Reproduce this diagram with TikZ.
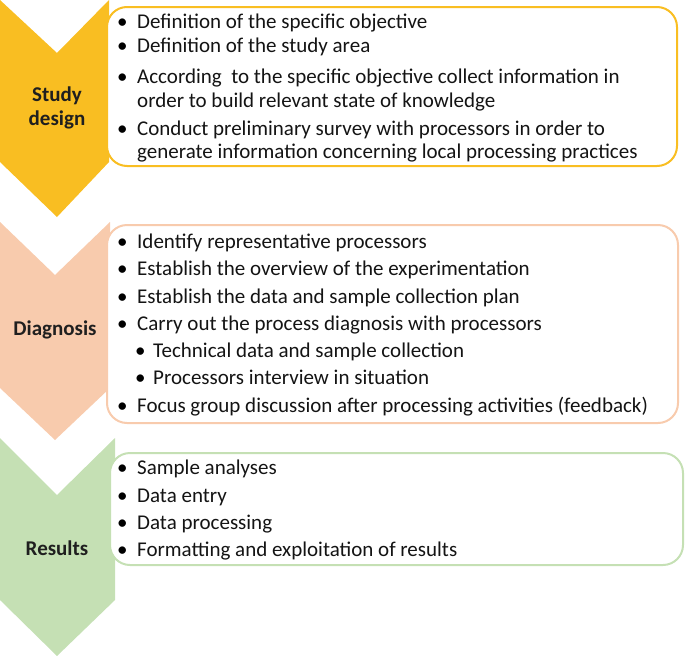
\documentclass[tikz,border=0pt]{standalone}
\usepackage{fontspec}
\setmainfont{Carlito}
\definecolor{cyel}{HTML}{F9BE22}
\definecolor{cpea}{HTML}{F8CBAD}
\definecolor{cgrn}{HTML}{C5E0B4}
\begin{document}
\begin{tikzpicture}[x=1pt,y=-1pt,
  box/.style={line width=2pt,rounded corners=20pt,fill=white},
  lab/.style={font=\fontsize{21}{24}\selectfont\bfseries,align=center,text=black!88},
  txt/.style={font=\fontsize{21}{24}\selectfont,anchor=base west,inner sep=0pt,text=black!92},
  bul/.style={font=\fontsize{21}{24}\selectfont,anchor=base west,inner sep=0pt}]
\useasboundingbox (0,0) rectangle (685,656);
% chevrons
\fill[cyel] (0,0) -- (57,53) -- (109,0) -- (109,162) -- (57,217) -- (0,162) -- cycle;
\fill[cpea] (0,222) -- (55,275) -- (110,222) -- (110,388) -- (55,440) -- (0,388) -- cycle;
\fill[cgrn] (0,438) -- (57,495) -- (115,438) -- (115,600) -- (57,656) -- (0,600) -- cycle;
% boxes
\draw[box,draw=cyel] (107,7) rectangle (677,166);
\draw[box,draw=cpea] (107,225) rectangle (678,423);
\draw[box,draw=cgrn] (110,453) rectangle (683,565);
% labels
\node[lab] (l1) at (57,108) {Study\\design};
\node[lab] (l2) at (55,330) {Diagnosis};
\node[lab] (l3) at (57,548) {Results};
% box 1
\foreach \y in {28,52,83,135} \node[bul] at (117,\y) {•};
\node[txt] (a1) at (137,28) {Definition of the specific objective};
\node[txt] (a2) at (137,52) {Definition of the study area};
\node[txt] (a3) at (137,83) {According\ \ to the specific objective collect information in};
\node[txt] (a4) at (137,107) {order to build relevant state of knowledge};
\node[txt] (a5) at (137,135) {Conduct preliminary survey with processors in order to};
\node[txt] (a6) at (137,158) {generate information concerning local processing practices};
% box 2
\foreach \y in {248,275,303,330,412} \node[bul] at (117,\y) {•};
\foreach \y in {357,384} \node[bul] at (135,\y) {•};
\node[txt] (b1) at (137,248) {Identify representative processors};
\node[txt] (b2) at (137,275) {Establish the overview of the experimentation};
\node[txt] (b3) at (137,303) {Establish the data and sample collection plan};
\node[txt] (b4) at (137,330) {Carry out the process diagnosis with processors};
\node[txt] (b5) at (153,357) {Technical data and sample collection};
\node[txt] (b6) at (153,384) {Processors interview in situation};
\node[txt] (b7) at (137,412) {Focus group discussion after processing activities (feedback)};
% box 3
\foreach \y in {474,502,529,556} \node[bul] at (117,\y) {•};
\node[txt] (c1) at (137,474) {Sample analyses};
\node[txt] (c2) at (137,502) {Data entry};
\node[txt] (c3) at (137,529) {Data processing};
\node[txt] (c4) at (137,556) {Formatting and exploitation of results};
\end{tikzpicture}
\end{document}
